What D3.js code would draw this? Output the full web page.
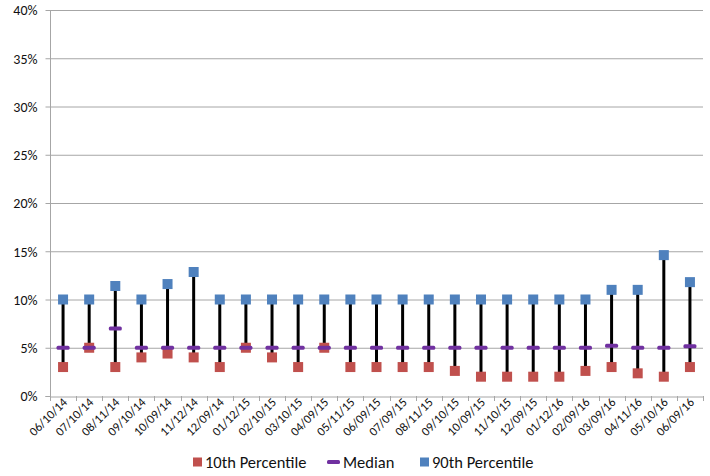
<!DOCTYPE html>
<html><head><meta charset="utf-8">
<script src="https://cdn.jsdelivr.net/npm/d3@7"></script>
<style>body{margin:0;background:#fff}svg{display:block}text{font-family:Carlito,"Liberation Sans",Arial,sans-serif}</style>
</head><body>
<script>
const categories = ["06/10/14","07/10/14","08/11/14","09/10/14","10/09/14","11/12/14","12/09/14","01/12/15","02/10/15","03/10/15","04/09/15","05/11/15","06/09/15","07/09/15","08/11/15","09/10/15","10/09/15","11/10/15","12/09/15","01/12/16","02/09/16","03/09/16","04/11/16","05/10/16","06/09/16"];
const p10 = [3,5,3,4,4.4,4,3,5,4,3,5,3,3,3,3,2.6,2,2,2,2,2.6,3,2.35,2,3];
const median = [5,5,7,5,5,5,5,5,5,5,5,5,5,5,5,5,5,5,5,5,5,5.2,5,5,5.15];
const p90 = [10,10,11.4,10,11.6,12.85,10,10,10,10,10,10,10,10,10,10,10,10,10,10,10,11,11,14.6,11.8];
const yTicks = [0,5,10,15,20,25,30,35,40];
const seriesNames = ["10th Percentile","Median","90th Percentile"];
const colors = ["#C0504D","#7030A0","#4F81BD"];

const W=710,H=476;
const svg=d3.select("body").append("svg").attr("width",W).attr("height",H);
const L=50,R=703,T=10,B=396;
const x=d3.scaleBand().domain(categories).range([L,R]);
const y=d3.scaleLinear().domain([0,40]).range([B,T]);

// gridlines
svg.append("g").selectAll("line").data(yTicks.filter(d=>d>0)).join("line")
  .attr("x1",L).attr("x2",R).attr("y1",d=>y(d)+0.5).attr("y2",d=>y(d)+0.5)
  .attr("stroke","#a6a6a6").attr("stroke-width",1);

// y axis
const ya=svg.append("g").attr("transform",`translate(${L+0.5},0)`)
  .call(d3.axisLeft(y).tickValues(yTicks).tickFormat(d=>d+"%").tickSize(5).tickPadding(8));
ya.select(".domain").attr("stroke","#a6a6a6").attr("d",`M-5,${B+0.5}H0V${T}`);
ya.selectAll(".tick line").attr("stroke","#a6a6a6");
ya.selectAll("text").attr("font-size",14).attr("fill","#111").attr("dy","0.35em");

// x axis
const xa=svg.append("g").attr("transform",`translate(0,${B+0.5})`)
  .call(d3.axisBottom(x).tickSize(0).tickFormat(""));
xa.select(".domain").attr("stroke","#a6a6a6");
const bounds=categories.map((c,i)=>x(c)).concat([R]);
svg.append("g").selectAll("line").data(bounds).join("line")
  .attr("x1",d=>Math.round(d)+0.5).attr("x2",d=>Math.round(d)+0.5).attr("y1",B).attr("y2",B+5)
  .attr("stroke","#a6a6a6");
svg.append("g").selectAll("text").data(categories).join("text")
  .attr("transform",d=>`translate(${x(d)+x.bandwidth()/2+5},${B+7}) rotate(-45)`)
  .attr("text-anchor","end").attr("font-size",12.5).attr("fill","#111").text(d=>d);

const cx=d=>x(d)+x.bandwidth()/2;
// high-low lines
svg.append("g").selectAll("line").data(categories).join("line")
  .attr("x1",(d)=>cx(d)).attr("x2",d=>cx(d))
  .attr("y1",(d,i)=>y(Math.min(p10[i],median[i],p90[i])))
  .attr("y2",(d,i)=>y(Math.max(p10[i],median[i],p90[i])))
  .attr("stroke","#000").attr("stroke-width",3);

const s=10;
svg.append("g").selectAll("rect").data(categories).join("rect")
  .attr("x",d=>cx(d)-s/2).attr("y",(d,i)=>y(p10[i])-s/2).attr("width",s).attr("height",s)
  .attr("fill",colors[0]);
svg.append("g").selectAll("rect").data(categories).join("rect")
  .attr("x",d=>cx(d)-6.5).attr("y",(d,i)=>y(median[i])-2).attr("width",13).attr("height",4).attr("rx",1.5)
  .attr("fill",colors[1]);
svg.append("g").selectAll("rect").data(categories).join("rect")
  .attr("x",d=>cx(d)-s/2).attr("y",(d,i)=>y(p90[i])-s/2).attr("width",s).attr("height",s)
  .attr("fill",colors[2]);

// legend
const lg=svg.append("g").attr("transform","translate(0,462)");
const lx=[193,327,420];
seriesNames.forEach((n,i)=>{
  if(i===1) lg.append("rect").attr("x",lx[i]).attr("y",-2).attr("width",13).attr("height",4).attr("rx",1.5).attr("fill",colors[i]);
  else lg.append("rect").attr("x",lx[i]).attr("y",-4.5).attr("width",9).attr("height",9).attr("fill",colors[i]);
  lg.append("text").attr("x",lx[i]+(i===1?16:12)).attr("y",0).attr("dy","0.35em").attr("font-size",16.5).attr("fill","#111").text(n);
});
</script>
</body></html>
